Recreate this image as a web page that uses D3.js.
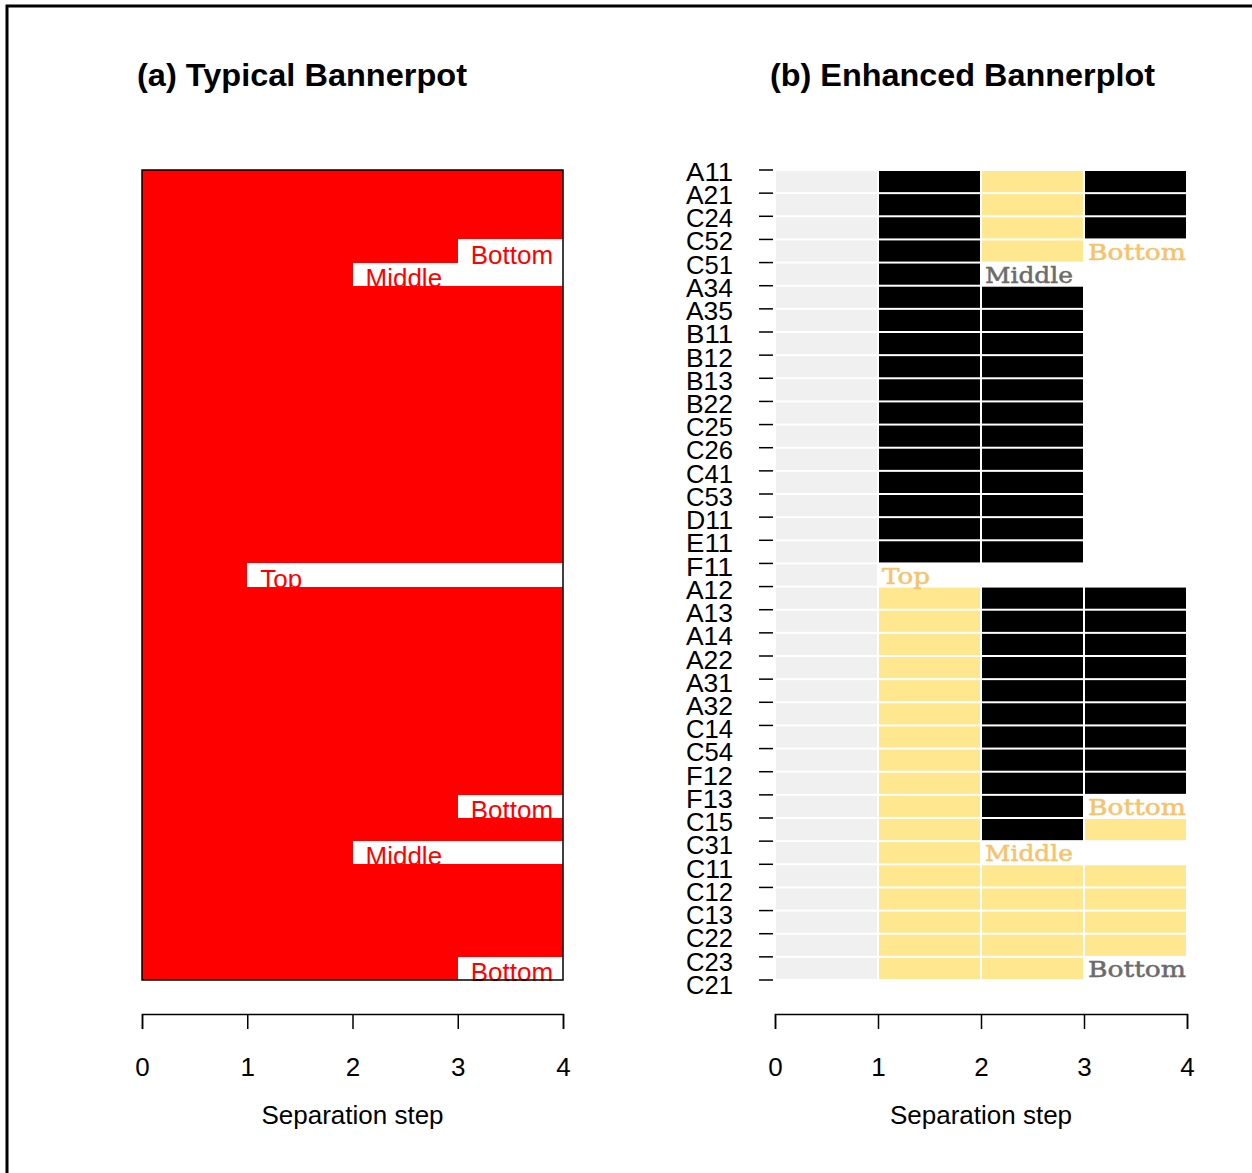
<!DOCTYPE html>
<html>
<head>
<meta charset="utf-8">
<script src="https://cdn.jsdelivr.net/npm/d3@7"></script>
<style>
  body { margin: 0; background: #fff; }
  svg { display: block; }
</style>
</head>
<body>
<div id="chart"></div>
<script>
const w = 1252;
const h = 1173;

// observation order (leaves)
const labels = ["A11","A21","C24","C52","C51","A34","A35","B11","B12","B13","B22","C25","C26",
    "C41","C53","D11","E11","F11","A12","A13","A14","A22","A31","A32","C14","C54","F12","F13",
    "C15","C31","C11","C12","C13","C22","C23","C21"];

// (a) separation step for every gap between neighbours
const sepSteps = [4,4,4,3,2,4,4,4,4,4,4,4,4,4,4,4,4,1,4,4,4,4,4,4,4,4,4,3,4,2,4,4,4,4,3];

// split labels: gap index, step, text
const splits = [
    {gap: 3,  step: 3, text: "Bottom", col: "y"},
    {gap: 4,  step: 2, text: "Middle", col: "d"},
    {gap: 17, step: 1, text: "Top",    col: "y"},
    {gap: 27, step: 3, text: "Bottom", col: "y"},
    {gap: 29, step: 2, text: "Middle", col: "y"},
    {gap: 34, step: 3, text: "Bottom", col: "d"}
];

// (b) cell codes per gap, steps 0-1 .. 3-4  (g grey, k black, y yellow, - empty)
const cells = [
    "gkyk","gkyk","gkyk","gky-","gk--",
    "gkk-","gkk-","gkk-","gkk-","gkk-","gkk-","gkk-","gkk-","gkk-","gkk-","gkk-","gkk-",
    "g---",
    "gykk","gykk","gykk","gykk","gykk","gykk","gykk","gykk","gykk",
    "gyk-","gyky","gy--",
    "gyyy","gyyy","gyyy","gyyy","gyy-"
];

const steps = [0, 1, 2, 3, 4];

const fillCol = {g: "#f0f0f0", k: "#000000", y: "#ffe78f"};
const textCol = {y: "#f5c36c", d: "#6b6b6b"};

const svg = d3.select("#chart")
    .append("svg")
    .attr("width", w)
    .attr("height", h)
    .style("font-family", "'Liberation Sans', Arial, sans-serif");

// outer frame (cut off on the right / bottom)
svg.append("rect")
    .attr("x", 7).attr("y", 6)
    .attr("width", w + 20).attr("height", h + 20)
    .attr("fill", "none").attr("stroke", "#000").attr("stroke-width", 3);

const yTop = 170, yBottom = 980;
const y = d3.scaleLinear().domain([0, labels.length - 1]).range([yTop, yBottom]);
// leaf labels sit a little lower than their ticks
const yLab = d3.scaleLinear().domain([0, labels.length - 1]).range([172, 985]);

const xa = d3.scaleLinear().domain([0, 4]).range([142, 563]);
const xb = d3.scaleLinear().domain([0, 4]).range([775, 1187]);

// titles
svg.append("text").attr("x", 137).attr("y", 86)
    .attr("font-size", 32).attr("font-weight", "bold")
    .attr("textLength", 330).attr("lengthAdjust", "spacingAndGlyphs")
    .text("(a) Typical Bannerpot");
svg.append("text").attr("x", 770).attr("y", 86)
    .attr("font-size", 32).attr("font-weight", "bold")
    .attr("textLength", 385).attr("lengthAdjust", "spacingAndGlyphs")
    .text("(b) Enhanced Bannerplot");

///////////////////////
// panel (a)
///////////////////////
const ga = svg.append("g");

ga.append("rect")
    .attr("x", xa(0)).attr("y", yTop)
    .attr("width", xa(4) - xa(0)).attr("height", yBottom - yTop)
    .attr("fill", "#fff");

ga.selectAll("rect.banner")
    .data(sepSteps)
    .enter()
    .append("rect")
    .attr("class", "banner")
    .attr("x", xa(0))
    .attr("y", (d, i) => Math.round(y(i)))
    .attr("width", d => xa(d) - xa(0))
    .attr("height", (d, i) => Math.round(y(i + 1)) - Math.round(y(i)))
    .attr("shape-rendering", "crispEdges")
    .attr("fill", "#ff0000");

ga.selectAll("text.split")
    .data(splits)
    .enter()
    .append("text")
    .attr("class", "split")
    .attr("x", d => xa(d.step) + 13)
    .attr("y", d => y(d.gap + 1) + 1)
    .attr("font-size", 26)
    .attr("fill", "#ff0000")
    .text(d => d.text);

ga.append("rect")
    .attr("x", xa(0)).attr("y", yTop)
    .attr("width", xa(4) - xa(0)).attr("height", yBottom - yTop)
    .attr("fill", "none").attr("stroke", "#000").attr("stroke-width", 1.5);

///////////////////////
// panel (b)
///////////////////////
const gb = svg.append("g");

let cellData = [];
cells.forEach((row, i) => {
    row.split("").forEach((c, s) => {
        if (c !== "-") cellData.push({gap: i, step: s, c: c});
    });
});

gb.selectAll("rect.cell")
    .data(cellData)
    .enter()
    .append("rect")
    .attr("class", "cell")
    .attr("x", d => xb(d.step) + 1)
    .attr("y", d => y(d.gap) + 1)
    .attr("width", d => xb(d.step + 1) - xb(d.step) - 2)
    .attr("height", d => y(d.gap + 1) - y(d.gap) - 2)
    .attr("fill", d => fillCol[d.c]);

gb.selectAll("text.split")
    .data(splits)
    .enter()
    .append("text")
    .attr("class", "split")
    .attr("x", d => xb(d.step) + 4)
    .attr("y", d => y(d.gap + 1) - 3)
    .attr("font-family", "'DejaVu Serif', serif")
    .attr("font-size", 22)
    .attr("textLength", d => d.text === "Top" ? 48 : (d.text === "Bottom" ? 98 : 88))
    .attr("lengthAdjust", "spacingAndGlyphs")
    .attr("fill", d => textCol[d.col])
    .attr("stroke", d => textCol[d.col])
    .attr("stroke-width", 0.5)
    .text(d => d.text);

// leaf labels and ticks
gb.selectAll("line.leaf")
    .data(labels)
    .enter()
    .append("line")
    .attr("class", "leaf")
    .attr("x1", 759).attr("x2", 773)
    .attr("y1", (d, i) => y(i)).attr("y2", (d, i) => y(i))
    .attr("stroke", "#000").attr("stroke-width", 1.5);

gb.selectAll("text.leaf")
    .data(labels)
    .enter()
    .append("text")
    .attr("class", "leaf")
    .attr("x", 733)
    .attr("y", (d, i) => yLab(i))
    .attr("dy", "0.35em")
    .attr("text-anchor", "end")
    .attr("font-size", 25)
    .attr("textLength", 47)
    .attr("lengthAdjust", "spacingAndGlyphs")
    .text(d => d);

///////////////////////
// x axes
///////////////////////
[xa, xb].forEach(sc => {
    const ax = svg.append("g")
        .attr("transform", "translate(0,1014)")
        .call(d3.axisBottom(sc).tickValues(steps).tickSize(15).tickPadding(29).tickFormat(d3.format("d")));
    ax.select(".domain").attr("stroke-width", 1.5);
    ax.selectAll(".tick line").attr("stroke-width", 1.5);
    ax.selectAll(".tick text")
        .attr("font-size", 26)
        .attr("font-family", "'Liberation Sans', Arial, sans-serif");
    svg.append("text")
        .attr("x", (sc.range()[0] + sc.range()[1]) / 2)
        .attr("y", 1124)
        .attr("text-anchor", "middle")
        .attr("font-size", 26)
        .text("Separation step");
});
</script>
</body>
</html>
